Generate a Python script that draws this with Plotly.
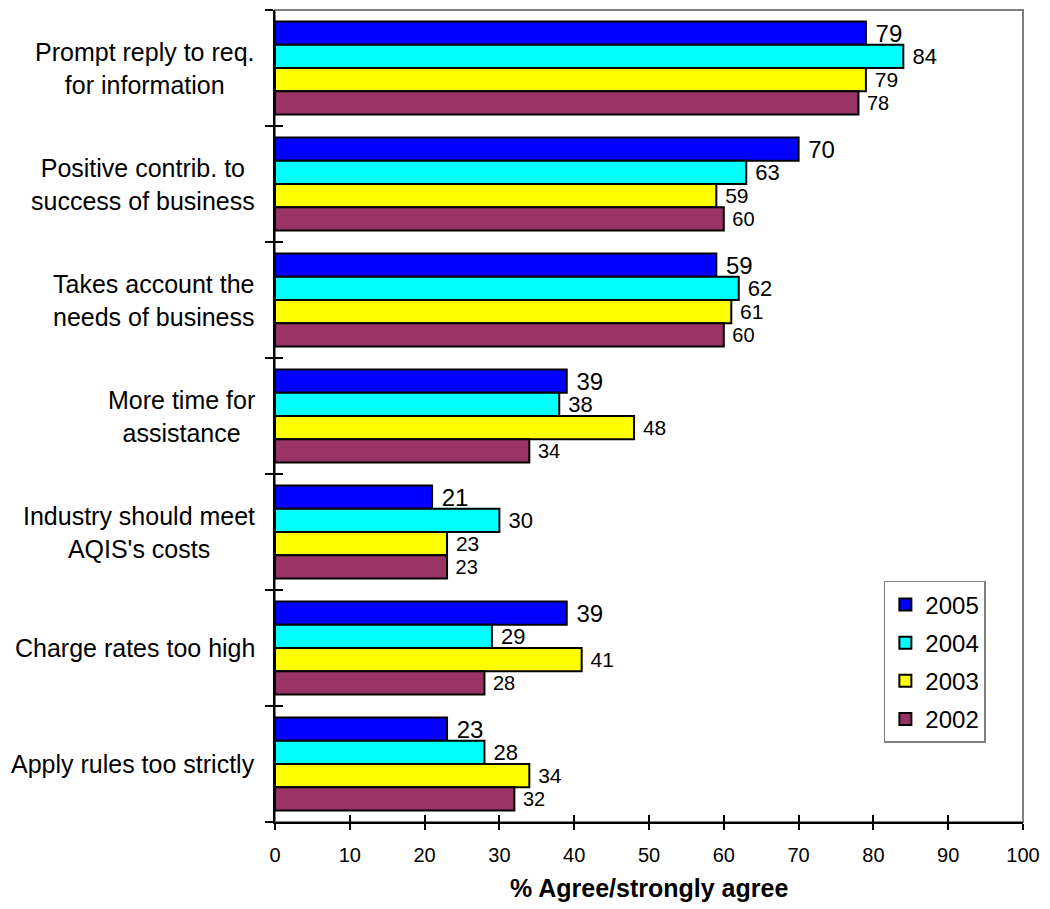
import plotly.graph_objects as go

categories = [
    "Prompt reply to req.<br>for information",
    "Positive contrib. to<br>success of business",
    "Takes account the<br>needs of business",
    "More time for<br>assistance",
    "Industry should meet<br>AQIS's costs",
    "Charge rates too high",
    "Apply rules too strictly",
]
years = ["2005", "2004", "2003", "2002"]
values_2005 = [79, 70, 59, 39, 21, 39, 23]
values_2004 = [84, 63, 62, 38, 30, 29, 28]
values_2003 = [79, 59, 61, 48, 23, 41, 34]
values_2002 = [78, 60, 60, 34, 23, 28, 32]
x_ticks = [0, 10, 20, 30, 40, 50, 60, 70, 80, 90, 100]

series = [values_2005, values_2004, values_2003, values_2002]
colors = ["#0000FF", "#00FFFF", "#FFFF00", "#993366"]
label_sizes = [24, 22, 21, 20]

font = "Liberation Sans, Arial, sans-serif"
ypos = list(range(len(categories)))
boundaries = [i - 0.5 for i in range(len(categories) + 1)]
yrange = [len(categories) - 0.5, -0.5]

fig = go.Figure()
for name, vals, col, fs in zip(years, series, colors, label_sizes):
    fig.add_trace(go.Bar(
        name=name, y=ypos, x=vals, orientation="h", legendgroup=name,
        marker=dict(color=col, line=dict(color="black", width=2)),
        text=[" " + str(v) for v in vals], textposition="outside",
        constraintext="none",
        textfont=dict(size=fs, color="black", family=font),
        cliponaxis=False, hoverinfo="x+name",
    ))

# empty trace carrying the overlay axes used for the inner half of the ticks
fig.add_trace(go.Scatter(x=[None], y=[None], xaxis="x2", yaxis="y2",
                         showlegend=False, hoverinfo="skip"))

# Gray frame around the plotting area (top and right remain visible)
fig.add_shape(type="rect", xref="paper", yref="paper", x0=0, x1=1, y0=0, y1=1,
              line=dict(color="#808080", width=2), layer="below")

# Category names, centre-aligned and set to the left of the axis
category_labels = [
    dict(text=c, xref="paper", yref="y", x=0, y=p, xanchor="right",
         yanchor="middle", align="center", xshift=-18, showarrow=False,
         font=dict(size=25))
    for c, p in zip(categories, ypos)
]

fig.update_layout(
    width=1050, height=909,
    margin=dict(l=275, r=27, t=10, b=87),
    paper_bgcolor="white", plot_bgcolor="white",
    barmode="group", bargap=0.2, bargroupgap=0,
    font=dict(family=font, color="black"),
    showlegend=True,
    legend=dict(x=0.814, y=0.297, xanchor="left", yanchor="top",
                bordercolor="#808080", borderwidth=1.5, bgcolor="white",
                font=dict(size=24), traceorder="grouped", tracegroupgap=4),
    xaxis=dict(range=[0, 100], tickvals=x_ticks, showgrid=False, zeroline=False,
               showline=True, linecolor="black", linewidth=2,
               ticks="outside", ticklen=6, tickcolor="black", tickwidth=1.5,
               tickfont=dict(size=20), ticklabelstandoff=8),
    xaxis2=dict(range=[0, 100], overlaying="x", tickvals=x_ticks, showgrid=False,
                zeroline=False, showline=False, showticklabels=False,
                ticks="inside", ticklen=7, tickcolor="black", tickwidth=1.5),
    yaxis=dict(range=yrange, tickvals=boundaries, showticklabels=False,
               showgrid=False, zeroline=False, showline=True, linecolor="black",
               linewidth=2, ticks="outside", ticklen=8, tickcolor="black",
               tickwidth=1.5),
    yaxis2=dict(range=yrange, overlaying="y", tickvals=boundaries, showgrid=False,
                zeroline=False, showline=False, showticklabels=False,
                ticks="inside", ticklen=8, tickcolor="black", tickwidth=1.5),
    annotations=category_labels + [
        dict(text="<b>% Agree/strongly agree</b>", xref="paper", yref="paper",
             x=0.5, y=-0.0813, xanchor="center", yanchor="middle",
             showarrow=False, font=dict(size=25))],
)

fig.write_html("out.html")
